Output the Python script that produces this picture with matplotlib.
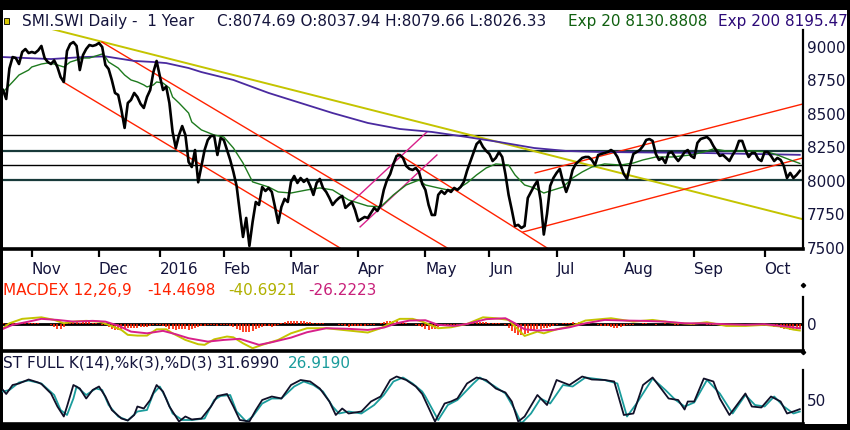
import numpy as np
import matplotlib
matplotlib.use("Agg")
import matplotlib.pyplot as plt
from matplotlib.patches import Rectangle
from matplotlib.lines import Line2D

# ---------------- data (trading-day index 0 = late Oct 2015) ----------------
close = [
    8679, 8612, 8840, 8925, 8918, 8873, 8963, 8985, 8955, 8963,
    8955, 8975, 9008, 8918, 8888, 8873, 8900, 8851, 8776, 8739,
    8970, 9022, 9037, 9008, 8828, 8940, 8985, 9015, 9008, 9015,
    9030, 9000, 8866, 8836, 8754, 8657, 8642, 8530, 8396, 8582,
    8605, 8657, 8627, 8575, 8545, 8627, 8679, 8813, 8896, 8784,
    8679, 8705, 8582, 8366, 8246, 8343, 8410, 8343, 8142, 8104,
    8231, 7990, 8110, 8231, 8306, 8336, 8336, 8194, 8321, 8306,
    8231, 8157, 8067, 7963, 7769, 7582, 7724, 7515, 7694, 7843,
    7821, 7955, 7925, 7948, 7918, 7806, 7687, 7806, 7866, 7843,
    7993, 8037, 7985, 8022, 7993, 8015, 7963, 7896, 7985, 8015,
    7948, 7918, 7873, 7821, 7851, 7873, 7888, 7799, 7821, 7843,
    7784, 7701, 7716, 7731, 7724, 7761, 7799, 7776, 7821, 7933,
    8007, 8052, 8127, 8187, 8194, 8172, 8112, 8090, 8082, 8097,
    8067, 7978, 7933, 7821, 7746, 7746, 7896, 7925, 7903, 7933,
    7918, 7948, 7933, 7955, 7993, 8075, 8142, 8209, 8276, 8299,
    8254, 8224, 8202, 8149, 8172, 8216, 8179, 8052, 7896, 7784,
    7664, 7672, 7649, 7664, 7873, 7918, 7963, 8000, 7858, 7600,
    7754, 7963, 8022, 8060, 8090, 7993, 7918, 7985, 8082, 8127,
    8149, 8172, 8179, 8179, 8157, 8119, 8194, 8202, 8209, 8216,
    8231, 8216, 8179, 8119, 8052, 8015, 8119, 8202, 8216, 8231,
    8261, 8306, 8313, 8299, 8202, 8157, 8172, 8134, 8209, 8216,
    8179, 8149, 8179, 8216, 8231, 8187, 8172, 8284, 8313, 8321,
    8328, 8306, 8261, 8224, 8187, 8194, 8172, 8149, 8194, 8231,
    8299, 8299, 8231, 8179, 8209, 8209, 8164, 8149, 8216, 8216,
    8187, 8149, 8172, 8157, 8112, 8022, 8060, 8022, 8045, 8075,
]

ema20_days = [0, 3, 5, 8, 9, 12, 14, 16, 17, 19, 21, 23, 25, 27, 29, 31, 32, 33, 36, 38,
              40, 42, 44, 45, 47, 48, 50, 52, 53, 55, 58, 59, 62, 66, 69, 72, 75, 78, 83, 86,
              90, 95, 99, 103, 108, 114, 118, 122, 126, 130, 132, 136, 139, 142, 145, 148, 151, 154, 158, 160,
              163, 166, 169, 172, 175, 178, 181, 184, 188, 193, 197, 200, 204, 209, 215, 219, 222, 226, 230, 234,
              239, 242, 246, 249]
ema20_vals = [8664, 8739, 8791, 8828, 8851, 8873, 8881, 8873, 8866, 8851, 8888, 8903, 8918, 8918, 8933, 8948, 8925, 8888, 8843, 8791,
              8754, 8739, 8717, 8702, 8717, 8739, 8731, 8694, 8627, 8582, 8507, 8440, 8381, 8343, 8328, 8246, 8134, 7993, 7955, 7918,
              7910, 7933, 7948, 7933, 7858, 7813, 7806, 7896, 7970, 8007, 7970, 7948, 7933, 7940, 7985, 8045, 8097, 8127, 8119, 8045,
              7970, 7948, 7910, 7933, 7955, 8022, 8067, 8104, 8127, 8119, 8134, 8157, 8179, 8179, 8194, 8216, 8239, 8224, 8224, 8224,
              8216, 8194, 8157, 8131]

ema200_days = [0, 15, 25, 32, 41, 47, 51, 58, 62, 72, 83, 93, 103, 114, 124, 134, 145, 155, 166, 176, 187, 218, 249]
ema200_vals = [8925, 8910, 8925, 8930, 8896, 8888, 8880, 8843, 8813, 8754, 8657, 8582, 8507, 8433, 8388, 8366, 8328, 8291, 8246, 8224, 8216, 8209, 8195]

support_levels = [8343, 8224, 8117, 8010]

# trendlines: (start day, start value, end day, end value)
yellow_lines = [(15.3, 9134, 249.7, 7716)]
red_lines = [(30.9, 9037, 138.8, 7500), (18.8, 8739, 105.3, 7500), (123.4, 8202, 170.0, 7500),
             (162.5, 7619, 250.0, 8172), (166.3, 8060, 250.0, 8575)]
magenta_lines = [(109.0, 7843, 132.5, 8366), (111.6, 7657, 135.6, 8194)]

macd_days = [0, 2, 6, 12, 16, 19, 22, 26, 30, 33, 37, 39, 42, 45, 48, 51, 53, 57, 61, 63,
             66, 70, 72, 75, 78, 81, 86, 90, 95, 101, 108, 114, 118, 121, 124, 128, 131, 136, 140, 145,
             150, 154, 158, 160, 163, 167, 169, 173, 178, 182, 190, 197, 203, 209, 215, 220, 226, 232, 238, 243,
             247, 249]
macd_vals = [-26, 6, 35, 45, 28, 6, 17, 22, 17, -4, -37, -69, -74, -74, -33, -33, -59, -102, -130, -134,
             -98, -80, -85, -124, -156, -134, -102, -59, -26, -26, -41, -54, -26, 6, 35, 35, 17, -26, -20, 2,
             45, 39, 28, -15, -76, -48, -59, -33, -11, 24, 39, 17, 28, 11, 2, 13, -11, -11, -4, -15,
             -35, -40.7]

signal_days = [0, 3, 8, 12, 17, 22, 28, 32, 36, 40, 45, 50, 54, 58, 64, 69, 74, 80, 84, 90,
               95, 101, 108, 114, 119, 123, 127, 132, 136, 141, 145, 151, 157, 160, 163, 167, 172, 177, 182, 188,
               194, 200, 207, 213, 219, 226, 232, 238, 243, 249]
signal_vals = [-30, -4, 17, 35, 28, 17, 22, 17, -9, -48, -59, -43, -65, -91, -113, -102, -95, -134, -117, -87,
               -52, -26, -30, -37, -22, 6, 24, 26, -4, -11, 2, 33, 39, 6, -33, -41, -37, -20, 6, 28,
               24, 22, 17, 6, 6, 0, -4, 0, -11, -26.2]

macd_hist = [
    6, -8, 8, 10, 8,
    10, 9, 8, 7, 8, 6, 5, 4, 3, 2, -3,
    -15, -30, -32, -20,
    5, 12, 17, 15, 10, 14, 16, 12, 10, 8,
    4, -2, -8,
    -18, -28, -35, -37, -33, -30, -26,
    -22, -25, -24, -20, -18, -15, -10, -6, -4,
    -8, -14, -20, -28, -33, -35, -30, -28, -32, -35, -30, -25, -20,
    -14, -10, -6, -4,
    -8, -10, -6, -4, -8, -12, -18, -28,
    -40, -48, -52, -50, -42,
    -30, -22, -15, -10, -12, -15, -10, -5,
    8, 14, 18, 22, 22, 20, 18, 20, 16, 12, 8,
    10, 8, 6, 4, 2, 4, 2,
    -4, -8, -12, -15, -12, -10, -14, -12, -10, -8, -6, -4, 2,
    8, 14, 18, 20, 22, 20, 16, 12, 8,
    4, 0, -6, -12, -20,
    -30, -37, -34, -28, -20,
    -14, -10, -8, -10, -6, -4, -2, 4, 8,
    12, 15, 17, 16, 14, 12, 10, 6, 8, 10, 4, -6,
    -25, -45, -60, -68, -70, -62, -55, -45, -35, -30,
    -28, -25, -22, -18, -12, -6,
    2, 6, 8, 10, 12, 10, 12, 10, 8, 6, 4, 2, -4,
    -10, -14, -12, -18, -22, -26, -20, -14, -8, -4, -2, 2,
    4, 6, 8, 4, 2, -2, 2, 4, 6, 4, 2, -4, -2, 4, 6, 2, -4, -2, 2,
    4, 2, -2, -6, -8, -6, -4, -8, -6, -4, -6, -8, -6, -4, -2, -6, -8, -6, -4, -6, -8, -10,
    -12, -15, -20, -24, -30, -34, -37, -35, -33, -30,
]

stk_days = [0, 1, 3, 5, 8, 11, 12, 15, 17, 19, 20, 22, 24, 26, 28, 30, 32, 34, 37, 39,
            41, 42, 44, 46, 48, 50, 52, 55, 57, 59, 62, 65, 67, 70, 72, 74, 77, 79, 81, 84,
            87, 90, 93, 96, 99, 102, 104, 106, 108, 112, 115, 118, 121, 123, 126, 129, 131, 135, 138, 140,
            142, 145, 148, 151, 154, 157, 159, 161, 163, 167, 170, 173, 177, 181, 184, 188, 191, 194, 197, 200,
            203, 206, 208, 211, 213, 214, 216, 219, 222, 224, 227, 229, 232, 234, 237, 240, 243, 245, 247, 249]
stk_vals = [70, 62, 80, 83, 91, 85, 82, 63, 37, 17, 37, 80, 73, 53, 70, 77, 57, 30, 13, 9,
            20, 37, 33, 50, 80, 67, 37, 7, 17, 11, 13, 37, 58, 62, 37, 10, 7, 30, 50, 57,
            53, 80, 90, 87, 73, 47, 20, 33, 23, 27, 47, 57, 90, 97, 90, 77, 62, 7, 43, 47,
            53, 83, 95, 90, 73, 65, 47, 7, 17, 60, 40, 90, 80, 97, 91, 90, 87, 20, 23, 80,
            95, 70, 53, 50, 31, 47, 47, 93, 87, 53, 20, 37, 63, 37, 35, 57, 47, 23, 27, 31.7]

std_days = [0, 2, 5, 8, 12, 16, 18, 20, 22, 23, 26, 29, 31, 33, 36, 39, 42, 45, 47, 49,
            51, 53, 56, 59, 63, 66, 68, 71, 73, 76, 78, 81, 84, 87, 91, 94, 97, 100, 103, 105,
            108, 112, 116, 119, 122, 125, 128, 131, 132, 136, 139, 142, 147, 149, 153, 157, 160, 162, 165, 168,
            171, 175, 178, 182, 188, 192, 195, 198, 203, 207, 210, 213, 216, 220, 224, 228, 232, 235, 238, 241,
            244, 247, 249]
std_vals = [67, 70, 85, 89, 83, 60, 30, 20, 53, 77, 60, 73, 70, 40, 17, 9, 27, 30, 63, 77,
            53, 23, 10, 10, 13, 50, 58, 60, 27, 7, 17, 43, 53, 53, 77, 87, 80, 67, 37, 23,
            27, 23, 40, 60, 87, 95, 83, 67, 57, 10, 40, 50, 83, 95, 80, 63, 30, 3, 23, 53,
            43, 80, 77, 95, 90, 83, 17, 43, 93, 70, 51, 37, 45, 90, 63, 23, 60, 40, 37, 57,
            37, 23, 26.9]

month_days = [9, 30, 49, 69, 90, 111, 132, 152, 173, 194, 216, 238]
month_labels = ["Nov", "Dec", "2016", "Feb", "Mar", "Apr", "May", "Jun", "Jul", "Aug", "Sep", "Oct"]
price_ticks = [7500, 7750, 8000, 8250, 8500, 8750, 9000]

# ---------------- styling ----------------
NAVY = "#14143c"
GREEN = "#1e7a1e"
PURPLE = "#4a2aa0"
RED = "#ff2200"
YELLOW = "#c4c400"
MAGENTA = "#d8208a"
TEAL = "#1a9c9c"
W, H = 850, 430


def fx(px):
    return px / W


def fy(py):
    return 1 - py / H


def panel(top, bottom):
    return [fx(3), fy(bottom), fx(803) - fx(3), (bottom - top) / H]


fig = plt.figure(figsize=(8.5, 4.3), dpi=100, facecolor="black")
fig.add_artist(Rectangle((fx(3), fy(424)), fx(847) - fx(3), (424 - 10) / H,
                         transform=fig.transFigure, facecolor="white",
                         edgecolor="none", zorder=-10))


def style_panel(ax):
    ax.set_facecolor("none")
    ax.spines["left"].set_visible(False)
    ax.spines["top"].set_visible(False)
    ax.spines["right"].set_linewidth(1.6)
    ax.spines["bottom"].set_linewidth(2.6)
    ax.set_xlim(0, 250)
    ax.yaxis.tick_right()
    ax.tick_params(axis="y", length=0, pad=3, labelsize=11, labelcolor=NAVY)


# ---------------- price panel ----------------
ax = fig.add_axes(panel(30, 249))
style_panel(ax)
ax.set_ylim(7492, 9127)
ax.set_yticks(price_ticks)

for k, lvl in enumerate(support_levels):
    ax.axhline(lvl, color="black" if k % 2 == 0 else "#183a3a",
               lw=1.0 if k % 2 == 0 else 1.6, zorder=1)

for lines, col, lw in ((yellow_lines, YELLOW, 1.4), (red_lines, RED, 1.0), (magenta_lines, MAGENTA, 1.0)):
    for d0, v0, d1, v1 in lines:
        ax.plot([d0, d1], [v0, v1], color=col, lw=lw, zorder=2)

ax.plot(ema200_days, ema200_vals, color=PURPLE, lw=1.3, zorder=3)
ax.plot(ema20_days, ema20_vals, color=GREEN, lw=1.0, zorder=3)
ax.plot(np.arange(len(close)), close, color="black", lw=1.9, zorder=4,
        solid_joinstyle="round")

ax.set_xticks(month_days, month_labels)
ax.tick_params(axis="x", direction="out", length=6, width=1.6, pad=3.5,
               labelsize=11, labelcolor=NAVY)
for lbl in ax.get_xticklabels():
    lbl.set_ha("left")

fig.add_artist(Rectangle((fx(4), fy(24)), 5 / W, 6 / H, transform=fig.transFigure,
                         facecolor="#d8c800", edgecolor="black", lw=0.6))
fig.text(fx(22), fy(26), "SMI.SWI Daily -  1 Year", fontsize=11, color=NAVY, va="baseline")
fig.text(fx(217), fy(26), "C:8074.69 O:8037.94 H:8079.66 L:8026.33", fontsize=11, color=NAVY, va="baseline")
fig.text(fx(568), fy(26), "Exp 20 8130.8808", fontsize=11, color="#106010", va="baseline")
fig.text(fx(718), fy(26), "Exp 200 8195.47", fontsize=11, color="#2c0a78", va="baseline")

# ---------------- MACD panel ----------------
axm = fig.add_axes(panel(297, 351))
style_panel(axm)
axm.set_ylim(-174, 177)
axm.set_yticks([0])
axm.set_xticks([])
axm.axhline(0, color="black", lw=2.0, zorder=1)
axm.vlines(np.arange(len(macd_hist)), 0, macd_hist, color="#ff2000", lw=1.2, zorder=2)
axm.plot(macd_days, macd_vals, color=YELLOW, lw=1.4, zorder=3)
axm.plot(signal_days, signal_vals, color=MAGENTA, lw=1.4, zorder=3)

fig.text(fx(3), fy(295), "MACDEX 12,26,9", fontsize=11, color=RED, va="baseline")
fig.text(fx(147), fy(295), "-14.4698", fontsize=11, color=RED, va="baseline")
fig.text(fx(228), fy(295), "-40.6921", fontsize=11, color="#b0b000", va="baseline")
fig.text(fx(308), fy(295), "-26.2223", fontsize=11, color="#c8207a", va="baseline")

for py in (285, 352):
    fig.add_artist(Line2D([fx(803)], [fy(py)], marker="D", markersize=2.2,
                          color="black", transform=fig.transFigure))

# ---------------- stochastic panel ----------------
axs = fig.add_axes(panel(370, 424))
style_panel(axs)
axs.set_ylim(2, 110)
axs.set_yticks([50])
axs.set_xticks([])
axs.plot(std_days, std_vals, color=TEAL, lw=1.3, zorder=2, clip_on=False)
axs.plot(stk_days, stk_vals, color="#101028", lw=1.3, zorder=3, clip_on=False)

fig.text(fx(3), fy(368), "ST FULL K(14),%k(3),%D(3)", fontsize=11, color=NAVY, va="baseline")
fig.text(fx(217), fy(368), "31.6990", fontsize=11, color=NAVY, va="baseline")
fig.text(fx(288), fy(368), "26.9190", fontsize=11, color=TEAL, va="baseline")

fig.savefig("out.png", dpi=100, facecolor="black")
